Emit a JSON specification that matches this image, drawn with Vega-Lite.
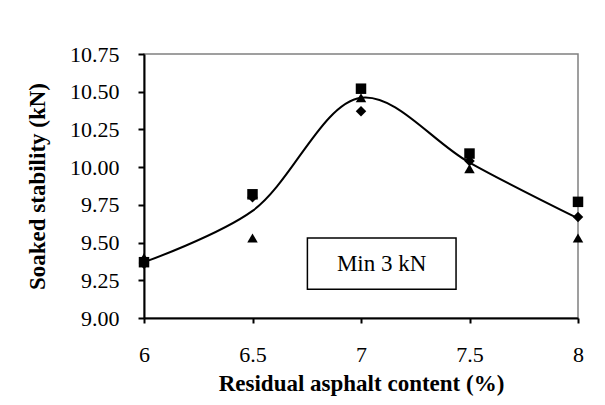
{
  "$schema": "https://vega.github.io/schema/vega-lite/v6.json",
  "autosize": "none",
  "width": 434,
  "height": 264,
  "padding": {"left": 144, "top": 54, "right": 27, "bottom": 87},
  "background": "white",
  "config": {
    "view": {"stroke": "#808080", "strokeWidth": 1.5},
    "font": "Liberation Serif, serif",
    "axis": {
      "grid": false,
      "domainColor": "black",
      "domainWidth": 2,
      "tickColor": "black",
      "tickWidth": 2,
      "labelFont": "Liberation Serif, serif",
      "labelFontSize": 22,
      "labelColor": "black",
      "labelOverlap": false,
      "labelFlush": false,
      "labelBound": false,
      "titleFont": "Liberation Serif, serif",
      "titleFontSize": 23,
      "titleFontWeight": "bold",
      "titleColor": "black"
    }
  },
  "datasets": {
    "points": [
      {"x": 6, "series": "diamond", "v": 9.36},
      {"x": 6.5, "series": "diamond", "v": 9.8},
      {"x": 7, "series": "diamond", "v": 10.37},
      {"x": 7.5, "series": "diamond", "v": 10.04},
      {"x": 8, "series": "diamond", "v": 9.67},
      {"x": 6, "series": "square", "v": 9.37},
      {"x": 6.5, "series": "square", "v": 9.82},
      {"x": 7, "series": "square", "v": 10.52},
      {"x": 7.5, "series": "square", "v": 10.09},
      {"x": 8, "series": "square", "v": 9.77},
      {"x": 6, "series": "triangle", "v": 9.4},
      {"x": 6.5, "series": "triangle", "v": 9.53},
      {"x": 7, "series": "triangle", "v": 10.46},
      {"x": 7.5, "series": "triangle", "v": 9.99},
      {"x": 8, "series": "triangle", "v": 9.53}
    ],
    "curve": [
      {"x": 6, "v": 9.37},
      {"x": 6.5, "v": 9.71},
      {"x": 7, "v": 10.46},
      {"x": 7.5, "v": 10.03},
      {"x": 8, "v": 9.66}
    ],
    "box": [
      {"x": 6.753, "x2": 7.438, "v": 9.19, "v2": 9.53}
    ],
    "label": [
      {"x": 7.095, "v": 9.36, "label": "Min 3 kN"}
    ]
  },
  "encoding": {
    "x": {
      "field": "x", "type": "quantitative",
      "scale": {"domain": [6, 8], "nice": false, "zero": false},
      "axis": {
        "values": [6, 6.5, 7, 7.5, 8],
        "format": "~g",
        "tickSize": 5,
        "labelPadding": 21,
        "title": "Residual asphalt content (%)",
        "titlePadding": 7
      }
    },
    "y": {
      "field": "v", "type": "quantitative",
      "scale": {"domain": [9, 10.75], "nice": false, "zero": false},
      "axis": {
        "values": [9, 9.25, 9.5, 9.75, 10, 10.25, 10.5, 10.75],
        "format": ".2f",
        "tickSize": 6,
        "labelPadding": 19,
        "title": "Soaked stability  (kN)",
        "titlePadding": 20
      }
    }
  },
  "layer": [
    {
      "data": {"name": "curve"},
      "mark": {"type": "line", "interpolate": "catmull-rom", "color": "black", "strokeWidth": 2}
    },
    {
      "data": {"name": "points"},
      "mark": {"type": "point", "filled": true, "color": "black", "opacity": 1, "size": 110},
      "encoding": {
        "shape": {
          "field": "series", "type": "nominal",
          "scale": {"domain": ["diamond", "square", "triangle"], "range": ["diamond", "square", "triangle-up"]},
          "legend": null
        },
        "order": {"field": "series"}
      }
    },
    {
      "data": {"name": "box"},
      "mark": {"type": "rect", "fill": "white", "stroke": "black", "strokeWidth": 1.5},
      "encoding": {
        "x2": {"field": "x2"},
        "y2": {"field": "v2"}
      }
    },
    {
      "data": {"name": "label"},
      "mark": {"type": "text", "font": "Liberation Serif, serif", "fontSize": 23, "color": "black", "align": "center", "baseline": "middle"},
      "encoding": {
        "text": {"field": "label"}
      }
    }
  ]
}
